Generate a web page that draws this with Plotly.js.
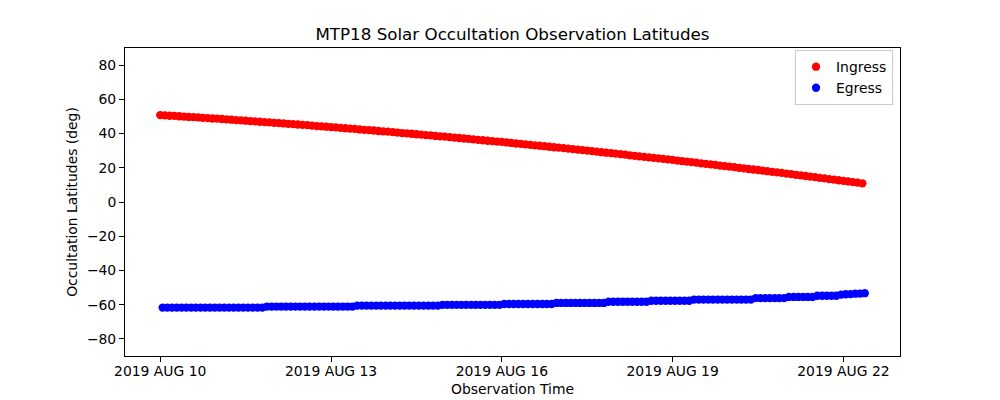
<!DOCTYPE html>
<html>
<head>
<meta charset="utf-8">
<script src="https://cdn.plot.ly/plotly-3.0.1.min.js"></script>
<style>
  html, body { margin: 0; padding: 0; background: #fff; }
  #chart { width: 1000px; height: 400px; }
</style>
</head>
<body>
<div id="chart"></div>
<script>
// Observation start (UTC) and hour offsets of each observation
const startDate = '2019-08-10T00:00:00Z';

const ingressHours = [
  0,2,4,6,8,10,12,14,16,18,20,22,
  24,26,28,30,32,34,36,38,40,42,44,46,
  48,50,52,54,56,58,60,62,64,66,68,70,
  72,74,76,78,80,82,84,86,88,90,92,94,
  96,98,100,102,104,106,108,110,112,114,116,118,
  120,122,124,126,128,130,132,134,136,138,140,142,
  144,146,148,150,152,154,156,158,160,162,164,166,
  168,170,172,174,176,178,180,182,184,186,188,190,
  192,194,196,198,200,202,204,206,208,210,212,214,
  216,218,220,222,224,226,228,230,232,234,236,238,
  240,242,244,246,248,250,252,254,256,258,260,262,
  264,266,268,270,272,274,276,278,280,282,284,286,
  288,290,292,294,296
];

const ingressLat = [
  50.8,50.6,50.4,50.3,50.1,49.9,49.7,49.6,49.4,49.2,49.0,48.8,
  48.7,48.5,48.3,48.1,47.9,47.7,47.5,47.3,47.1,46.9,46.7,46.5,
  46.3,46.1,45.9,45.7,45.5,45.3,45.1,44.9,44.6,44.4,44.2,44.0,
  43.8,43.6,43.3,43.1,42.9,42.7,42.4,42.2,42.0,41.8,41.5,41.3,
  41.1,40.8,40.6,40.3,40.1,39.9,39.6,39.4,39.1,38.9,38.6,38.4,
  38.2,37.9,37.6,37.4,37.1,36.9,36.6,36.3,36.1,35.8,35.6,35.3,
  35.1,34.8,34.5,34.2,34.0,33.7,33.4,33.1,32.9,32.6,32.3,32.0,
  31.8,31.5,31.2,30.9,30.6,30.3,30.0,29.7,29.4,29.1,28.8,28.6,
  28.3,28.0,27.7,27.3,27.0,26.7,26.4,26.1,25.8,25.5,25.2,24.9,
  24.6,24.2,23.9,23.6,23.3,23.0,22.6,22.3,22.0,21.7,21.3,21.0,
  20.7,20.4,20.0,19.7,19.3,19.0,18.7,18.3,18.0,17.6,17.3,17.0,
  16.6,16.3,15.9,15.6,15.2,14.8,14.5,14.1,13.8,13.4,13.1,12.7,
  12.4,12.0,11.6,11.3,10.9
];

const egressHours = [
  1,3,5,7,9,11,13,15,17,19,21,23,
  25,27,29,31,33,35,37,39,41,43,45,47,
  49,51,53,55,57,59,61,63,65,67,69,71,
  73,75,77,79,81,83,85,87,89,91,93,95,
  97,99,101,103,105,107,109,111,113,115,117,119,
  121,123,125,127,129,131,133,135,137,139,141,143,
  145,147,149,151,153,155,157,159,161,163,165,167,
  169,171,173,175,177,179,181,183,185,187,189,191,
  193,195,197,199,201,203,205,207,209,211,213,215,
  217,219,221,223,225,227,229,231,233,235,237,239,
  241,243,245,247,249,251,253,255,257,259,261,263,
  265,267,269,271,273,275,277,279,281,283,285,287,
  289,291,293,295,297
];

const egressLat = [
  -61.7,-61.7,-61.7,-61.7,-61.7,-61.7,-61.7,-61.7,-61.7,-61.7,-61.7,-61.7,
  -61.7,-61.7,-61.7,-61.7,-61.7,-61.7,-61.7,-61.7,-61.7,-61.7,-61.1,-61.1,
  -61.1,-61.1,-61.1,-61.1,-61.1,-61.1,-61.1,-61.1,-61.1,-61.1,-61.1,-61.1,
  -61.1,-61.1,-61.1,-61.1,-61.1,-60.6,-60.6,-60.6,-60.6,-60.6,-60.6,-60.6,
  -60.6,-60.6,-60.6,-60.6,-60.6,-60.6,-60.6,-60.6,-60.6,-60.6,-60.6,-60.1,
  -60.1,-60.1,-60.1,-60.1,-60.1,-60.1,-60.1,-60.1,-60.1,-60.1,-60.1,-60.1,
  -59.6,-59.6,-59.6,-59.6,-59.6,-59.6,-59.6,-59.6,-59.6,-59.6,-59.6,-59.0,
  -59.0,-59.0,-59.0,-59.0,-59.0,-59.0,-59.0,-59.0,-59.0,-59.0,-58.3,-58.3,
  -58.3,-58.3,-58.3,-58.3,-58.3,-58.3,-58.3,-57.7,-57.7,-57.7,-57.7,-57.7,
  -57.7,-57.7,-57.7,-57.7,-57.0,-57.0,-57.0,-57.0,-57.0,-57.0,-57.0,-57.0,
  -57.0,-57.0,-57.0,-57.0,-57.0,-56.2,-56.2,-56.2,-56.2,-56.2,-56.2,-56.2,
  -55.5,-55.5,-55.5,-55.5,-55.5,-55.5,-54.8,-54.8,-54.8,-54.8,-54.8,-54.1,
  -53.9,-53.8,-53.6,-53.5,-53.3
];

const tickDates = ['2019-08-10', '2019-08-13', '2019-08-16', '2019-08-19', '2019-08-22'];
const tickLabels = ['2019 AUG 10', '2019 AUG 13', '2019 AUG 16', '2019 AUG 19', '2019 AUG 22'];
const yTicks = [-80, -60, -40, -20, 0, 20, 40, 60, 80];

const baseMs = Date.parse(startDate);
function toDate(h) {
  return new Date(baseMs + h * 3600000).toISOString().slice(0, 19).replace('T', ' ');
}

// matplotlib-like 5% margins on the x data range
const allH = ingressHours.concat(egressHours);
const hMin = Math.min.apply(null, allH), hMax = Math.max.apply(null, allH);
const pad = (hMax - hMin) * 0.05;

const FONT = 'DejaVu Sans, Liberation Sans, sans-serif';

const traces = [
  {
    type: 'scatter', mode: 'markers', name: 'Ingress',
    x: ingressHours.map(toDate), y: ingressLat,
    marker: { color: '#ff0000', size: 8.3, line: { width: 0 } }
  },
  {
    type: 'scatter', mode: 'markers', name: 'Egress',
    x: egressHours.map(toDate), y: egressLat,
    marker: { color: '#0000ff', size: 8.3, line: { width: 0 } }
  }
];

const layout = {
  width: 1000, height: 400,
  margin: { l: 125, r: 100, t: 48, b: 44, pad: 0 },
  paper_bgcolor: '#ffffff', plot_bgcolor: '#ffffff',
  font: { family: FONT, size: 13.9, color: '#000000' },
  title: {
    text: 'MTP18 Solar Occultation Observation Latitudes',
    font: { family: FONT, size: 16.7, color: '#000000' },
    x: 0.5125, xanchor: 'center', xref: 'container',
    y: 1 - 34 / 400, yanchor: 'middle', yref: 'container'
  },
  xaxis: {
    type: 'date',
    range: [toDate(hMin - pad), toDate(hMax + pad)],
    tickmode: 'array', tickvals: tickDates, ticktext: tickLabels,
    ticks: 'outside', ticklen: 5, tickwidth: 1, tickcolor: '#000',
    ticklabelstandoff: -3,
    showline: true, linecolor: '#000', linewidth: 1, mirror: true,
    showgrid: false, zeroline: false,
    tickfont: { family: FONT, size: 13.9, color: '#000' },
    title: { text: 'Observation Time', font: { family: FONT, size: 13.9, color: '#000' }, standoff: 6 }
  },
  yaxis: {
    range: [-90, 90],
    tickmode: 'array', tickvals: yTicks,
    ticks: 'outside', ticklen: 5, tickwidth: 1, tickcolor: '#000',
    showline: true, linecolor: '#000', linewidth: 1, mirror: true,
    showgrid: false, zeroline: false,
    tickfont: { family: FONT, size: 13.9, color: '#000' },
    title: { text: 'Occultation Latitudes (deg)', font: { family: FONT, size: 13.9, color: '#000' }, standoff: 6 }
  },
  showlegend: true,
  legend: {
    x: 0.991, y: 0.993, xanchor: 'right', yanchor: 'top',
    bgcolor: 'rgba(255,255,255,0.8)', bordercolor: '#cccccc', borderwidth: 1,
    font: { family: FONT, size: 13.9, color: '#000' }
  }
};

Plotly.newPlot('chart', traces, layout, { displayModeBar: false, staticPlot: true });
</script>
</body>
</html>
